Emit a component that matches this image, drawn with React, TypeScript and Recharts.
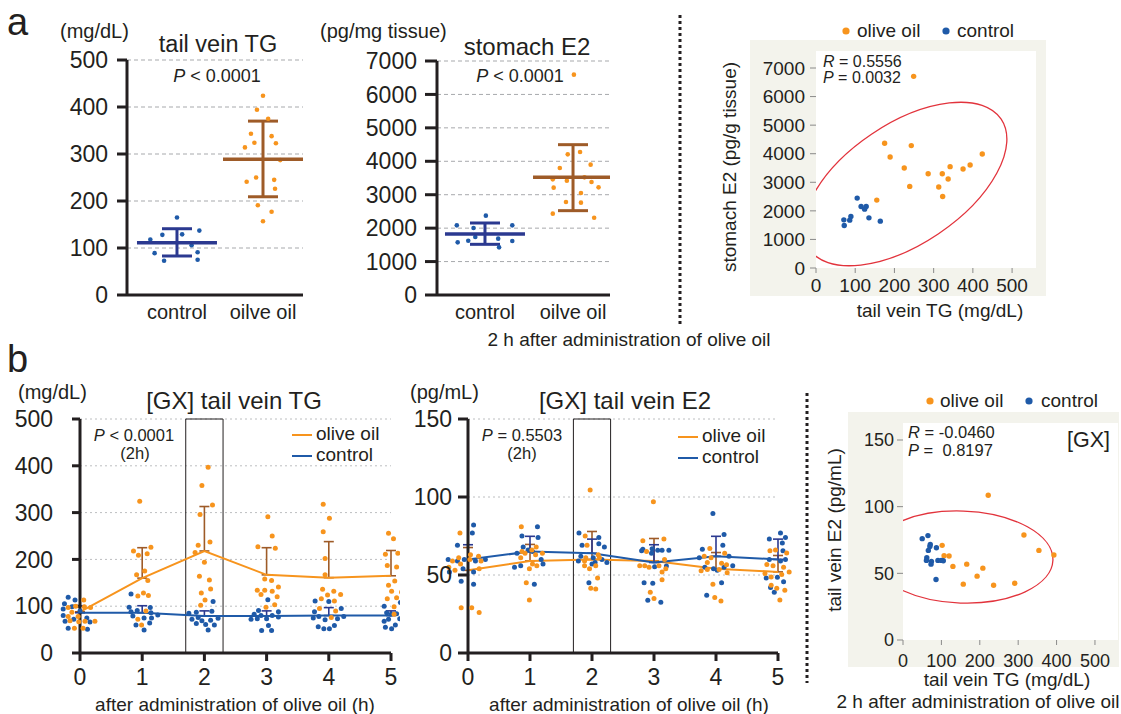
import React from "react";
import {
  ComposedChart,
  ScatterChart,
  Scatter,
  Line,
  XAxis,
  YAxis,
  CartesianGrid,
  ErrorBar,
  ReferenceArea,
} from "recharts";

const INK = "#231f20";
const ORANGE = "#f7941d";
const BLUE = "#1f5aa8";
const NAVY = "#2b3990";
const BROWN = "#9e5b28";
const RED = "#e2333c";
const BEIGE = "#f3f3ec";
const FONT = '"Liberation Sans", Arial, Helvetica, sans-serif';

// ---------- a: 2 h after administration (dot plots)
const groups = ["control", "oilve oil"];

const tgControl = [165, 137, 128, 129, 118, 106, 89, 91, 73, 75];
const tgControlJit = [0, 0.26, -0.17, 0.06, -0.31, 0.17, -0.26, 0.24, -0.15, 0.24];
const tgOlive = [424, 394, 375, 343, 338, 324, 314, 323, 287, 250, 241, 245, 226, 191, 177, 157];
const tgOliveJit = [0, -0.07, 0.06, -0.14, 0.1, -0.1, -0.21, 0.15, 0.2, -0.08, -0.19, 0.13, 0.14, -0.06, 0.1, 0];
const tgMean = [111, 289];
const tgLow = [83, 209];
const tgHigh = [141, 370];

const e2Control = [2373, 2084, 2004, 2084, 1735, 1625, 1685, 1575, 1615, 1426];
const e2ControlJit = [0.01, -0.32, -0.13, 0.31, -0.11, -0.19, 0.15, -0.31, 0.31, 0.16];
const e2Olive = [6592, 4278, 4208, 3799, 3899, 3460, 3420, 3520, 3380, 3211, 3221, 3051, 2782, 2762, 2433, 2313];
const e2OliveJit = [0.01, 0.08, -0.06, -0.15, 0.2, -0.23, -0.07, 0.13, 0.21, -0.22, 0.29, 0.09, -0.08, 0.09, -0.23, 0.24];
const e2Mean = [1825, 3520];
const e2Low = [1516, 2523];
const e2High = [2154, 4497];

// a: correlation tail vein TG vs stomach E2
const corrOliveTG = [249, 175, 243, 189, 424, 225, 286, 322, 342, 375, 393, 337, 239, 313, 323, 155];
const corrOliveE2 = [6708, 4366, 4284, 3886, 3992, 3500, 3301, 3301, 3547, 3465, 3605, 3114, 2856, 2833, 2505, 2376];
const corrControlTG = [105, 115, 128, 124, 89, 86, 71, 72, 135, 164];
const corrControlE2 = [2447, 2154, 2154, 2060, 1803, 1674, 1686, 1487, 1756, 1639];
const corrEllipseA = [{ x: 227, y: 2940 }];

// ---------- b: [GX] time course
const time = [0, 1, 2, 3, 4, 5];

const gxTgOlive = [
  [113, 97, 100, 99, 87, 97, 78, 78, 69, 67, 68, 68, 53, 53],
  [324, 218, 209, 212, 226, 167, 175, 155, 128, 122, 123, 90, 72, 60],
  [397, 358, 316, 296, 230, 237, 215, 194, 164, 156, 137, 128, 113, 102],
  [291, 250, 227, 224, 158, 155, 141, 134, 134, 132, 125, 120, 103, 98],
  [318, 288, 259, 202, 167, 136, 132, 124, 125, 116, 111, 90, 76, 95],
  [256, 244, 211, 213, 187, 184, 154, 145, 132, 130, 116, 118, 99, 83],
];
const gxTgOliveJit = [
  [0.06, -0.19, -0.07, 0.07, -0.13, 0.17, -0.19, -0.03, -0.16, -0.02, 0.08, 0.24, -0.09, 0.05],
  [-0.04, -0.14, -0.06, 0.08, 0.14, -0.09, 0.04, 0.09, 0.02, -0.07, 0.1, 0.06, -0.07, -0.01],
  [0.06, -0.04, 0.13, -0.07, -0.1, 0.09, -0.15, 0, -0.08, 0.08, 0.1, -0.05, 0.01, -0.06],
  [0.02, 0.09, -0.14, 0.14, -0.03, 0.08, 0.19, -0.15, -0.03, 0.09, -0.09, 0.17, 0.13, -0.01],
  [-0.09, 0.01, -0.09, -0.06, -0.06, -0.1, 0.08, -0.02, 0.19, -0.12, 0.09, 0.11, 0.04, -0.15],
  [-0.04, 0.04, -0.09, 0.11, -0.06, 0.09, 0.06, -0.04, 0.01, 0.17, -0.06, 0.09, 0.05, 0.05],
];
const gxTgControl = [
  [119, 113, 105, 94, 99, 90, 80, 72, 75, 68, 66, 53, 51],
  [126, 98, 91, 97, 88, 86, 79, 75, 75, 81, 60, 64, 49],
  [110, 85, 87, 89, 72, 76, 69, 63, 61, 70, 60, 74, 49],
  [114, 91, 88, 83, 80, 80, 72, 73, 73, 77, 59, 48, 48],
  [111, 110, 95, 88, 78, 71, 75, 73, 78, 56, 52, 52, 59],
  [108, 100, 86, 83, 84, 83, 68, 72, 73, 60, 55, 52],
];
const gxTgControlJit = [
  [-0.19, -0.08, -0.25, -0.27, -0.13, 0, -0.27, -0.1, 0.11, -0.24, 0.16, -0.19, 0.12],
  [-0.18, -0.21, -0.08, 0.13, -0.18, 0.14, -0.15, 0.03, 0.15, 0.25, -0.1, 0.12, 0.03],
  [0.14, -0.25, -0.13, 0.12, -0.2, -0.1, -0.04, -0.13, 0.02, 0.1, 0.16, 0.22, 0.06],
  [0.02, -0.13, 0.19, -0.2, -0.09, 0.09, -0.25, -0.15, 0, 0.19, 0.03, -0.08, 0.08],
  [-0.22, 0, 0.2, -0.23, -0.16, -0.06, -0.25, 0.14, 0.24, -0.17, -0.08, 0.01, 0.09],
  [0.15, -0.11, -0.07, 0, 0.09, 0.2, -0.11, -0.04, 0.14, 0.07, -0.09, 0.01],
];
const gxTgOliveMean = [88, 160, 218, 167, 161, 165];
const gxTgOliveUpper = [100, 225, 313, 225, 238, 219];
const gxTgControlMean = [86, 86, 79, 79, 80, 80];
const gxTgControlUpper = [101, 101, 90, 90, 97, 90];

const gxE2Olive = [
  [77, 61, 59, 55, 53, 57, 63, 62, 60, 59, 54, 29, 29, 26],
  [81, 65, 68, 64, 61, 66, 63, 64, 54, 56, 57, 45, 34],
  [104.5, 75, 69, 63, 61, 59, 54, 56, 56, 48, 41.5, 41, 61],
  [97, 72, 73, 65, 60, 56, 56, 55, 56, 52, 54, 47, 39, 35],
  [67, 62, 61, 64, 58, 57.5, 56.6, 52.8, 53.6, 53.6, 51.5, 44, 35.5, 33.3],
  [65.6, 66, 64.1, 56.8, 56, 54.9, 51.9, 50.9, 48.7, 50.4, 43.4, 41.5, 40.2, 34],
];
const gxE2OliveJit = [
  [-0.13, -0.15, -0.25, -0.31, -0.21, -0.12, 0.04, 0.17, 0.03, 0.21, 0.18, -0.11, 0.06, 0.18],
  [-0.14, -0.13, 0.1, -0.08, -0.15, 0.03, 0.09, 0.2, -0.01, 0.11, 0.04, -0.06, -0.01],
  [-0.03, -0.11, -0.08, 0.1, -0.1, -0.12, -0.04, -0.12, 0.06, 0.09, -0.02, 0.06, 0.12],
  [-0.01, -0.18, 0.16, -0.12, 0.17, -0.23, -0.15, -0.08, 0.08, 0.13, 0.19, 0.13, -0.06, 0],
  [-0.1, -0.19, -0.08, 0.14, -0.14, 0.09, 0.17, -0.24, -0.14, 0.05, 0.18, -0.05, -0.02, 0.08],
  [-0.13, -0.04, 0.14, -0.18, -0.08, 0.09, 0.18, -0.21, -0.11, 0.06, -0.11, -0.02, 0.11, 0.03],
];
const gxE2Control = [
  [82, 77, 69, 60, 59, 60, 52, 54, 52, 46, 44, 59, 60],
  [81, 75, 74, 68, 66, 65, 60, 64, 55, 56, 57, 44],
  [77, 74, 69, 70, 68, 62, 59, 61, 58, 60, 58, 57, 45],
  [65.6, 66.5, 66.9, 63.9, 65.8, 65.8, 65.8, 55.3, 55.8, 45.1, 44.7, 33.8, 32.5],
  [89.5, 76, 66.5, 69, 61, 62, 55, 54, 55, 56, 53, 45, 37],
  [77, 73, 74, 70.5, 65.6, 60, 59, 60, 48, 48.5, 45.7, 42, 39],
];
const gxE2ControlJit = [
  [0.09, 0.07, -0.17, -0.32, -0.17, -0.06, -0.3, -0.08, 0.09, -0.11, 0.09, 0.12, 0.28],
  [0.12, -0.13, 0.13, -0.11, -0.03, 0.04, 0.18, -0.21, -0.25, -0.15, 0.21, 0.07],
  [-0.21, 0.11, -0.16, 0.11, 0.2, -0.18, -0.22, 0.02, 0.05, 0.16, 0.24, 0, -0.05],
  [-0.2, -0.18, -0.03, -0.04, 0.06, 0.13, 0.24, 0.01, 0.2, -0.16, -0.02, -0.1, 0.11],
  [-0.05, 0.13, -0.22, 0.11, -0.27, 0.21, -0.18, -0.04, 0.13, 0.27, 0.02, 0.09, -0.15],
  [0.04, -0.14, 0.12, 0.07, 0.08, -0.14, 0.04, 0.12, -0.19, -0.01, 0.09, -0.12, -0.06],
];
const gxE2OliveMean = [53, 59, 60, 59, 54, 52];
const gxE2OliveUpper = [67.6, 69.6, 77.9, 73.4, 64.4, 62.5];
const gxE2ControlMean = [60, 65, 64, 58, 62, 60];
const gxE2ControlUpper = [69.4, 74.8, 73, 69.4, 74.8, 73];

// b: [GX] correlation at 2 h
const gxCorrOliveTG = [222, 315, 354, 393, 102, 107, 120, 130, 166, 208, 193, 157, 236, 291];
const gxCorrOliveE2 = [108.6, 78.8, 67.2, 63.7, 71, 63.2, 63, 55.2, 56.9, 53.9, 47.9, 41.9, 41.1, 42.6];
const gxCorrControlTG = [50, 65, 71, 70, 66, 87, 62, 61, 74, 73, 91, 100, 105, 86];
const gxCorrControlE2 = [76, 78.3, 71.7, 70.2, 67.2, 69.2, 61.7, 59.7, 58.9, 56.9, 59.7, 59.7, 59.4, 45.4];
const corrEllipseB = [{ x: 153.6, y: 62.2 }];

// ---------- helpers
const zip = (xs: number[], ys: number[]) => xs.map((x, i) => ({ x, y: ys[i] }));
const jittered = (vals: number[], jit: number[], base: number) =>
  vals.map((v, i) => ({ x: base + jit[i], y: v }));
const byTime = (vals: number[][], jit: number[][]) =>
  vals.flatMap((g, t) => jittered(g, jit[t], time[t]));

const dot = (r: number, fill: string) => (p: any) =>
  p.cx == null ? <g /> : <circle cx={p.cx} cy={p.cy} r={r} fill={fill} />;
const meanBar = (color: string) => (p: any) =>
  p.cx == null ? <g /> : (
    <line x1={p.cx - 40} x2={p.cx + 40} y1={p.cy} y2={p.cy} stroke={color} strokeWidth={3.5} />
  );
const ellipse = (rx: number, ry: number, angle: number) => (p: any) =>
  p.cx == null ? <g /> : (
    <ellipse
      cx={p.cx}
      cy={p.cy}
      rx={rx}
      ry={ry}
      transform={`rotate(${angle} ${p.cx} ${p.cy})`}
      fill="none"
      stroke={RED}
      strokeWidth={1.3}
    />
  );

const thickAxis = { stroke: INK, strokeWidth: 3 };

function DotPlot(props: any) {
  const { left, width, yWidth, right, top, domainX, yMax, yTicks, tickSize, tickMargin } = props;
  const summary = [0, 1].map((i) => ({
    x: i + 1,
    y: props.mean[i],
    err: [props.mean[i] - props.low[i], props.high[i] - props.mean[i]],
  }));
  return (
    <div style={{ position: "absolute", left, top: 0 }}>
      <ScatterChart width={width} height={340} margin={{ top, right, bottom: 0, left: 0 }}>
        <CartesianGrid vertical={false} stroke="#a7a9ac" strokeDasharray="4 3" />
        <XAxis
          type="number"
          dataKey="x"
          domain={domainX}
          allowDataOverflow
          ticks={[1, 2]}
          tickFormatter={(v) => groups[v - 1]}
          height={45}
          axisLine={thickAxis}
          tickLine={false}
          tickSize={6}
          tickMargin={4}
          tick={{ fill: INK, fontSize: 20 }}
        />
        <YAxis
          type="number"
          dataKey="y"
          domain={[0, yMax]}
          allowDataOverflow
          ticks={yTicks}
          width={yWidth}
          axisLine={thickAxis}
          tickLine={thickAxis}
          tickSize={tickSize}
          tickMargin={tickMargin}
          tick={{ fill: INK, fontSize: 23 }}
        />
        <Scatter data={jittered(props.ctl, props.ctlJit, 1)} shape={dot(2.3, BLUE)} isAnimationActive={false} />
        <Scatter data={jittered(props.oil, props.oilJit, 2)} shape={dot(2.3, ORANGE)} isAnimationActive={false} />
        <Scatter data={[summary[0]]} shape={meanBar(NAVY)} isAnimationActive={false}>
          <ErrorBar dataKey="err" direction="y" width={15} strokeWidth={3} stroke={NAVY} />
        </Scatter>
        <Scatter data={[summary[1]]} shape={meanBar(BROWN)} isAnimationActive={false}>
          <ErrorBar dataKey="err" direction="y" width={15} strokeWidth={3} stroke={BROWN} />
        </Scatter>
      </ScatterChart>
    </div>
  );
}

function TimeCourse(props: any) {
  const { left, yWidth, right, yMax, yTicks, tickSize, tickMargin } = props;
  const lineData = time.map((t, i) => ({
    x: t,
    olive: props.oliveMean[i],
    control: props.ctlMean[i],
    oErr: [0, props.oliveUp[i] - props.oliveMean[i]],
    cErr: [0, props.ctlUp[i] - props.ctlMean[i]],
  }));
  return (
    <div className="noclip" style={{ position: "absolute", left, top: 380 }}>
      <ComposedChart width={400} height={334} margin={{ top: 39, right, bottom: 0, left: 0 }}>
        <CartesianGrid vertical={false} stroke="#bcbec0" strokeDasharray="2 3" />
        <XAxis
          type="number"
          dataKey="x"
          domain={[0, 5]}
          allowDataOverflow
          ticks={time}
          height={61}
          axisLine={thickAxis}
          tickLine={thickAxis}
          tickSize={8}
          tickMargin={8}
          tick={{ fill: INK, fontSize: 23 }}
        />
        <YAxis
          type="number"
          dataKey="y"
          domain={[0, yMax]}
          ticks={yTicks}
          width={yWidth}
          axisLine={thickAxis}
          tickLine={thickAxis}
          tickSize={tickSize}
          tickMargin={tickMargin}
          tick={{ fill: INK, fontSize: 23 }}
        />
        <ReferenceArea x1={1.7} x2={2.3} y1={0} y2={yMax} fill="none" stroke={INK} strokeWidth={1} />
        <Scatter data={byTime(props.ctl, props.ctlJit)} shape={dot(2.5, BLUE)} isAnimationActive={false} />
        <Scatter data={byTime(props.olive, props.oliveJit)} shape={dot(2.5, ORANGE)} isAnimationActive={false} />
        <Line data={lineData} dataKey="olive" stroke={ORANGE} strokeWidth={2} dot={false} activeDot={false} isAnimationActive={false}>
          <ErrorBar dataKey="oErr" direction="y" width={5} strokeWidth={1.6} stroke={BROWN} />
        </Line>
        <Line data={lineData} dataKey="control" stroke={BLUE} strokeWidth={2} dot={false} activeDot={false} isAnimationActive={false}>
          <ErrorBar dataKey="cErr" direction="y" width={5} strokeWidth={1.6} stroke={NAVY} />
        </Line>
      </ComposedChart>
    </div>
  );
}

function Corr(props: any) {
  const { left, top, width, height, yWidth, right, mTop, xHeight, xMax, yMax, yTicks, fontSize, xMargin, yMargin } = props;
  return (
    <>
      <div style={{ position: "absolute", left, top: props.bgTop, width, height: props.bgHeight, background: BEIGE }} />
      <div style={{ position: "absolute", left, top }}>
        <ScatterChart width={width} height={height} margin={{ top: mTop, right, bottom: 0, left: 0 }}>
          <ReferenceArea x1={0} x2={xMax} y1={0} y2={yMax} fill="#ffffff" fillOpacity={1} stroke="none" />
          <XAxis
            type="number"
            dataKey="x"
            domain={[0, xMax]}
            allowDataOverflow
            ticks={[0, 100, 200, 300, 400, 500]}
            height={xHeight}
            axisLine={false}
            tickLine={{ stroke: "#8a8a8a" }}
            tickSize={5}
            tickMargin={xMargin}
            tick={{ fill: INK, fontSize }}
          />
          <YAxis
            type="number"
            dataKey="y"
            domain={[0, yMax]}
            allowDataOverflow
            ticks={yTicks}
            width={yWidth}
            axisLine={false}
            tickLine={{ stroke: "#8a8a8a" }}
            tickSize={6}
            tickMargin={yMargin}
            tick={{ fill: INK, fontSize }}
          />
          <Scatter data={props.ellipseAt} shape={ellipse(props.rx, props.ry, props.angle)} isAnimationActive={false} />
          <Scatter data={props.olive} shape={dot(2.7, ORANGE)} isAnimationActive={false} />
          <Scatter data={props.ctl} shape={dot(2.7, BLUE)} isAnimationActive={false} />
        </ScatterChart>
      </div>
    </>
  );
}

const T = ({ x, y, s = 19, a = "start", children, ...rest }: any) => (
  <text x={x} y={y} fontSize={s} textAnchor={a} fill={INK} {...rest}>
    {children}
  </text>
);
const I = ({ children }: any) => <tspan fontStyle="italic">{children}</tspan>;

export default function App() {
  return (
    <div
      style={{
        position: "absolute",
        left: 0,
        top: 0,
        width: 1121,
        height: 714,
        background: "#fff",
        fontFamily: FONT,
        overflow: "hidden",
      }}
    >
      <style>{`.noclip [clip-path] { clip-path: none !important; }`}</style>

      <DotPlot
        left={40}
        width={280}
        yWidth={87}
        right={17}
        top={60}
        domainX={[0.419, 2.465]}
        yMax={500}
        yTicks={[0, 100, 200, 300, 400, 500]}
        tickSize={10}
        tickMargin={9}
        ctl={tgControl}
        ctlJit={tgControlJit}
        oil={tgOlive}
        oilJit={tgOliveJit}
        mean={tgMean}
        low={tgLow}
        high={tgHigh}
      />
      <DotPlot
        left={340}
        width={290}
        yWidth={97}
        right={20}
        top={61}
        domainX={[0.455, 2.42]}
        yMax={7000}
        yTicks={[0, 1000, 2000, 3000, 4000, 5000, 6000, 7000]}
        tickSize={12}
        tickMargin={8}
        ctl={e2Control}
        ctlJit={e2ControlJit}
        oil={e2Olive}
        oilJit={e2OliveJit}
        mean={e2Mean}
        low={e2Low}
        high={e2High}
      />
      <Corr
        left={750}
        top={0}
        width={296}
        height={300}
        bgTop={40}
        bgHeight={256}
        yWidth={66}
        right={10}
        mTop={51}
        xHeight={32}
        xMax={561}
        yMax={7595}
        yTicks={[0, 1000, 2000, 3000, 4000, 5000, 6000, 7000]}
        fontSize={19}
        xMargin={6}
        yMargin={5}
        ellipseAt={corrEllipseA}
        rx={116}
        ry={60}
        angle={-34}
        olive={zip(corrOliveTG, corrOliveE2)}
        ctl={zip(corrControlTG, corrControlE2)}
      />

      <TimeCourse
        left={0}
        yWidth={80}
        right={9}
        yMax={500}
        yTicks={[0, 100, 200, 300, 400, 500]}
        tickSize={8}
        tickMargin={19}
        olive={gxTgOlive}
        oliveJit={gxTgOliveJit}
        ctl={gxTgControl}
        ctlJit={gxTgControlJit}
        oliveMean={gxTgOliveMean}
        oliveUp={gxTgOliveUpper}
        ctlMean={gxTgControlMean}
        ctlUp={gxTgControlUpper}
      />
      <TimeCourse
        left={400}
        yWidth={68}
        right={22}
        yMax={150}
        yTicks={[0, 50, 100, 150]}
        tickSize={10}
        tickMargin={6}
        olive={gxE2Olive}
        oliveJit={gxE2OliveJit}
        ctl={gxE2Control}
        ctlJit={gxE2ControlJit}
        oliveMean={gxE2OliveMean}
        oliveUp={gxE2OliveUpper}
        ctlMean={gxE2ControlMean}
        ctlUp={gxE2ControlUpper}
      />
      <Corr
        left={848}
        top={412}
        width={271}
        height={272}
        bgTop={412}
        bgHeight={255}
        yWidth={55}
        right={1}
        mTop={11}
        xHeight={44}
        xMax={560}
        yMax={162.75}
        yTicks={[0, 50, 100, 150]}
        fontSize={18}
        xMargin={9}
        yMargin={3}
        ellipseAt={corrEllipseB}
        rx={91}
        ry={46}
        angle={2}
        olive={zip(gxCorrOliveTG, gxCorrOliveE2)}
        ctl={zip(gxCorrControlTG, gxCorrControlE2)}
      />

      <svg
        width={1121}
        height={714}
        style={{ position: "absolute", left: 0, top: 0, pointerEvents: "none", fontFamily: FONT }}
      >
        {/* panel letters */}
        <T x={7} y={35} s={38}>a</T>
        <T x={7} y={372} s={38}>b</T>

        {/* a: tail vein TG */}
        <T x={60} y={38} s={20}>(mg/dL)</T>
        <T x={218} y={52} s={23.5} a="middle">tail vein TG</T>
        <T x={217} y={82} s={18} a="middle"><I>P</I> &lt; 0.0001</T>

        {/* a: stomach E2 */}
        <T x={320} y={38} s={20}>(pg/mg tissue)</T>
        <T x={527} y={55} s={24} a="middle">stomach E2</T>
        <T x={520} y={82} s={18} a="middle"><I>P</I> &lt; 0.0001</T>
        <T x={629} y={346} s={19} a="middle">2 h after administration of olive oil</T>

        <line x1={680} y1={15} x2={680} y2={325} stroke={INK} strokeWidth={3} strokeDasharray="3 3" />

        {/* a: correlation */}
        <circle cx={846} cy={31} r={3.6} fill={ORANGE} />
        <T x={857} y={37} s={19}>olive oil</T>
        <circle cx={946} cy={31} r={3.6} fill={BLUE} />
        <T x={957} y={37} s={19}>control</T>
        <T x={823} y={67} s={16}><I>R</I> = 0.5556</T>
        <T x={823} y={83} s={16}><I>P</I> = 0.0032</T>
        <T x={736} y={167} s={19} a="middle" transform="rotate(-90 736 167)">stomach E2 (pg/g tissue)</T>
        <T x={940} y={317} s={19} a="middle">tail vein TG (mg/dL)</T>

        {/* b: [GX] tail vein TG */}
        <T x={18} y={399} s={20}>(mg/dL)</T>
        <T x={234} y={409} s={24} a="middle">[GX] tail vein TG</T>
        <T x={134} y={441} s={16.5} a="middle"><I>P</I> &lt; 0.0001</T>
        <T x={135} y={459} s={16.5} a="middle">(2h)</T>
        <line x1={292} x2={312} y1={435} y2={435} stroke={ORANGE} strokeWidth={2} />
        <T x={316} y={440} s={19}>olive oil</T>
        <line x1={292} x2={312} y1={456} y2={456} stroke={BLUE} strokeWidth={2} />
        <T x={316} y={461} s={19}>control</T>
        <T x={235} y={711} s={19} a="middle">after administration of olive oil (h)</T>

        {/* b: [GX] tail vein E2 */}
        <T x={410} y={399} s={20}>(pg/mL)</T>
        <T x={625} y={409} s={24} a="middle">[GX] tail vein E2</T>
        <T x={522} y={441} s={16.5} a="middle"><I>P</I> = 0.5503</T>
        <T x={522} y={459} s={16.5} a="middle">(2h)</T>
        <line x1={678} x2={698} y1={437} y2={437} stroke={ORANGE} strokeWidth={2} />
        <T x={702} y={442} s={19}>olive oil</T>
        <line x1={678} x2={698} y1={458} y2={458} stroke={BLUE} strokeWidth={2} />
        <T x={702} y={463} s={19}>control</T>
        <T x={629} y={711} s={19} a="middle">after administration of olive oil (h)</T>

        <line x1={807} y1={393} x2={807} y2={683} stroke={INK} strokeWidth={3} strokeDasharray="3 3" />

        {/* b: correlation */}
        <circle cx={930} cy={401} r={3.6} fill={ORANGE} />
        <T x={940} y={407} s={19}>olive oil</T>
        <circle cx={1029} cy={401} r={3.6} fill={BLUE} />
        <T x={1041} y={407} s={19}>control</T>
        <T x={908} y={438} s={16.5}><I>R</I> = -0.0460</T>
        <T x={908} y={456} s={16.5}><I>P</I> ={"\u00a0\u00a0"}0.8197</T>
        <T x={1110} y={447} s={21.5} a="end">[GX]</T>
        <T x={841} y={530} s={19} a="middle" transform="rotate(-90 841 530)">tail vein E2 (pg/mL)</T>
        <T x={1007} y={686} s={19} a="middle">tail vein TG (mg/dL)</T>
        <T x={978} y={708} s={19} a="middle">2 h after administration of olive oil</T>
      </svg>
    </div>
  );
}
